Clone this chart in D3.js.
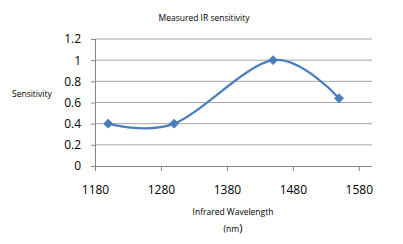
<!DOCTYPE html>
<html>
<head>
<meta charset="utf-8">
<script src="https://cdn.jsdelivr.net/npm/d3@7"></script>
<style>
  body { margin: 0; background: #fff; }
  text { font-family: "Open Sans", sans-serif; fill: #000; }
</style>
</head>
<body>
<div id="container"></div>
<script>
// data
const wavelengths = [1200, 1300, 1450, 1550];
const sensitivity = [0.4, 0.4, 1.0, 0.64];
const xTicks = [1180, 1280, 1380, 1480, 1580];
const yTicks = [0, 0.2, 0.4, 0.6, 0.8, 1, 1.2];

const width = 403, height = 244;
const margin = { top: 39, bottom: 78, left: 95, right: 31 };

const svg = d3.select("#container")
  .append("svg")
  .attr("width", width)
  .attr("height", height);

const x = d3.scaleLinear()
  .domain([1180, 1600])
  .range([margin.left, width - margin.right]);

const y = d3.scaleLinear()
  .domain([0, 1.2])
  .range([height - margin.bottom, margin.top]);

// gridlines
svg.selectAll("line.grid")
  .data(yTicks.filter(d => d > 0))
  .join("line")
  .attr("class", "grid")
  .attr("x1", x(1180))
  .attr("x2", x(1600))
  .attr("y1", d => y(d))
  .attr("y2", d => y(d))
  .attr("stroke", "#a6a6a6")
  .attr("stroke-width", 1);

// y axis
const yAxis = svg.append("g")
  .attr("transform", `translate(${x(1180)},0)`)
  .call(d3.axisLeft(y).tickValues(yTicks).tickSize(4).tickPadding(10)
    .tickFormat(d => d3.format("~g")(d)));

// x axis
const xAxis = svg.append("g")
  .attr("transform", `translate(0,${y(0)})`)
  .call(d3.axisBottom(x).tickValues(xTicks).tickSize(5).tickPadding(14)
    .tickFormat(d3.format("d")));

[yAxis, xAxis].forEach(g => {
  g.select(".domain").attr("stroke", "#868686");
  g.selectAll(".tick line").attr("stroke", "#868686");
  g.selectAll(".tick text").style("font-size", "12px").attr("fill", "#000");
});
xAxis.select(".domain").attr("d", `M${x(1180)},0.5H${x(1600)}`);
yAxis.select(".domain").attr("d", `M0.5,${y(1.2)}V${y(0)}`);

// smoothed line
const pts = wavelengths.map((w, i) => [w, sensitivity[i]]);
const lineGen = d3.line()
  .x(d => x(d[0]))
  .y(d => y(d[1]))
  .curve(d3.curveCardinal.tension(0));

svg.append("path")
  .datum(pts)
  .attr("d", lineGen)
  .attr("fill", "none")
  .attr("stroke", "#4a7ebb")
  .attr("stroke-width", 2.25);

svg.selectAll("path.marker")
  .data(pts)
  .join("path")
  .attr("class", "marker")
  .attr("d", d3.symbol(d3.symbolDiamond2, 50))
  .attr("transform", d => `translate(${x(d[0])},${y(d[1])})`)
  .attr("fill", "#4a7ebb")
  .attr("stroke", "#4a7ebb")
  .attr("stroke-width", 1);

// titles
svg.append("text")
  .attr("x", 204).attr("y", 21)
  .attr("text-anchor", "middle")
  .style("font-size", "8.5px")
  .text("Measured IR sensitivity");

svg.append("text")
  .attr("x", 12).attr("y", 97)
  .style("font-size", "8.5px")
  .text("Sensitivity");

svg.append("text")
  .attr("x", 233).attr("y", 215)
  .attr("text-anchor", "middle")
  .style("font-size", "8.5px")
  .text("Infrared Wavelength");

const nm = svg.append("text")
  .attr("x", 233).attr("y", 232)
  .attr("text-anchor", "middle")
  .style("font-size", "8.5px");
nm.append("tspan").text("(nm");
nm.append("tspan").style("font-size", "11px").text(")");
</script>
</body>
</html>
